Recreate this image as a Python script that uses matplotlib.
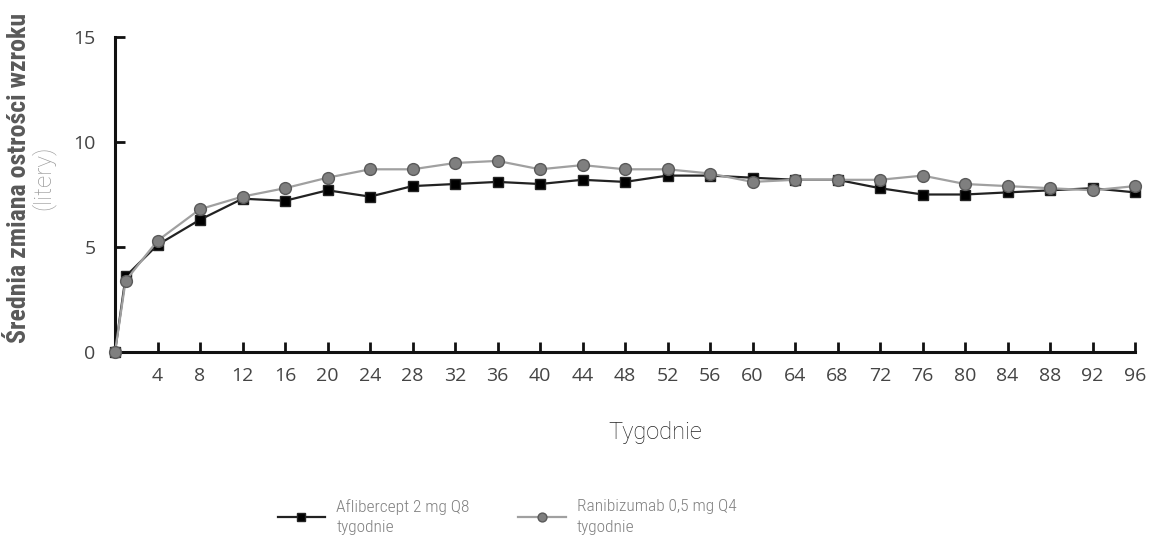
import matplotlib
matplotlib.use("Agg")
import matplotlib.pyplot as plt

weeks = [0, 1, 4, 8, 12, 16, 20, 24, 28, 32, 36, 40, 44, 48, 52, 56, 60, 64, 68, 72, 76, 80, 84, 88, 92, 96]
aflibercept = [0, 3.6, 5.1, 6.3, 7.3, 7.2, 7.7, 7.4, 7.9, 8.0, 8.1, 8.0, 8.2, 8.1, 8.4, 8.4, 8.3, 8.2, 8.2, 7.8, 7.5, 7.5, 7.6, 7.7, 7.8, 7.6]
ranibizumab = [0, 3.4, 5.3, 6.8, 7.4, 7.8, 8.3, 8.7, 8.7, 9.0, 9.1, 8.7, 8.9, 8.7, 8.7, 8.5, 8.1, 8.2, 8.2, 8.2, 8.4, 8.0, 7.9, 7.8, 7.7, 7.9]
x_ticks = list(range(4, 97, 4))
y_ticks = [0, 5, 10, 15]
label_a = "Aflibercept 2 mg Q8\ntygodnie"
label_r = "Ranibizumab 0,5 mg Q4\ntygodnie"

W, H = 1153, 541
fig = plt.figure(figsize=(W / 100, H / 100), dpi=100)
ax = fig.add_axes([115 / W, 1 - 352 / H, (1135 - 115) / W, (352 - 37) / H])

ax.plot(weeks, aflibercept, color="#222222", lw=1.6, marker="s", ms=7.5,
        mfc="black", mec="#222222", label=label_a, zorder=3, clip_on=False)
ax.plot(weeks, ranibizumab, color="#a0a0a0", lw=1.6, marker="o", ms=8.5,
        mfc="#7f7f7f", mec="#5a5a5a", mew=1.0, label=label_r, zorder=4, clip_on=False)

ax.set_xlim(0, 96)
ax.set_ylim(0, 15)
ax.spines["top"].set_visible(False)
ax.spines["right"].set_visible(False)
for s in ("left", "bottom"):
    ax.spines[s].set_linewidth(2.2)
    ax.spines[s].set_color("#111111")
ax.set_xticks(x_ticks)
ax.set_yticks(y_ticks)
ax.tick_params(axis="both", direction="in", length=7, width=2, color="#111111",
               labelsize=14, labelcolor="#444444")
ax.tick_params(axis="x", pad=11)
ax.tick_params(axis="y", pad=14)
for lab in ax.get_xticklabels() + ax.get_yticklabels():
    lab.set_fontfamily("Open Sans")
    lab.set_fontweight("medium")

narrow = ["Roboto Condensed", "Liberation Sans Narrow", "Roboto"]
fig.text(19 / W, 1 - 178 / H, "Średnia zmiana ostrości wzroku", rotation=90,
         ha="center", va="center", fontsize=18.6, fontweight="bold",
         color="#595959", family=narrow)
fig.text(43 / W, 1 - 178 / H, "(litery)", rotation=90, ha="center", va="center",
         fontsize=17.5, fontweight="light", color="#999999", family="Roboto")
fig.text(655 / W, 1 - 433 / H, "Tygodnie", ha="center", va="center",
         fontsize=17, fontweight="light", color="#222222", family="Roboto")

leg = fig.legend(loc="center left", bbox_to_anchor=(262 / W, 1 - 517 / H), ncol=2,
                 frameon=False, handlelength=2.75, handletextpad=0.63,
                 columnspacing=2.8, markerscale=0.75,
                 prop={"family": ["Roboto Condensed", "Roboto"], "weight": "light", "size": 12.5})
for t in leg.get_texts():
    t.set_color("#808080")
    t.set_linespacing(1.45)

fig.savefig("out.png", dpi=100)
